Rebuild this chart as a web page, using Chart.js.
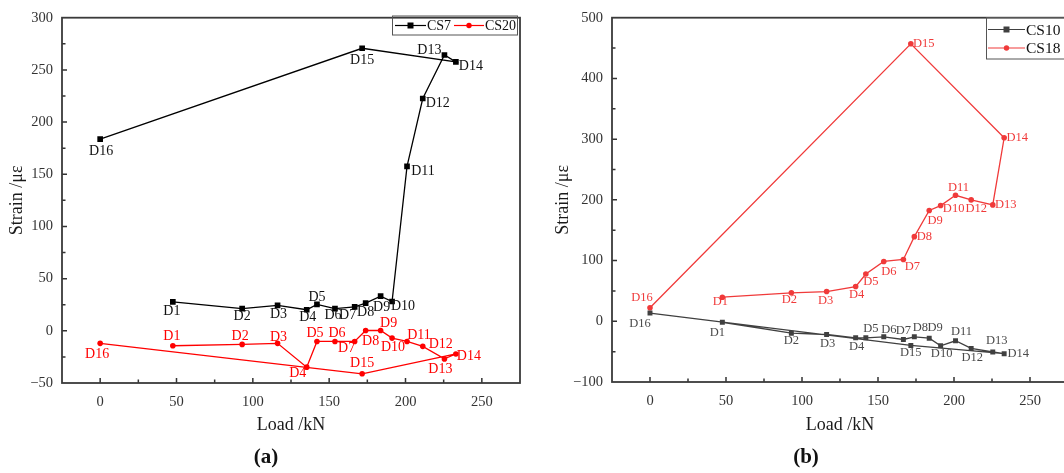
<!DOCTYPE html>
<html>
<head>
<meta charset="utf-8">
<script src="https://cdn.jsdelivr.net/npm/chart.js@4.4.1/dist/chart.umd.min.js"></script>
<style>
    html, body { margin: 0; padding: 0; background: #fff; overflow: hidden; }
    #page { position: relative; width: 1064px; height: 473px; overflow: hidden; }
    .panel { position: absolute; top: 0; height: 473px; }
    #panel-a { left: 0; width: 540px; }
    #panel-b { left: 552px; width: 528px; }
    .caption {
        position: absolute; top: 444px; transform: translateX(-50%);
        font: bold 21px 'Liberation Serif', serif; color: #111;
    }
</style>
</head>
<body>
<div id="page">
    <div class="panel" id="panel-a"><canvas id="chart-a"></canvas></div>
    <div class="panel" id="panel-b"><canvas id="chart-b"></canvas></div>
    <div class="caption" style="left:266px">(a)</div>
    <div class="caption" style="left:806px">(b)</div>
</div>
<script>
// measuring points D1..D16, load applied at each one (kN)
const pointNames = ['D1', 'D2', 'D3', 'D4', 'D5', 'D6', 'D7', 'D8', 'D9', 'D10', 'D11', 'D12', 'D13', 'D14', 'D15', 'D16'];
const loads = [47.6, 93, 116.2, 135.3, 142, 153.8, 166.7, 173.9, 183.7, 191.2, 201, 211.3, 225.5, 233, 171.6, 0];

// strain readings (με)
const cs7Strain = [27.8, 21.2, 24.3, 20.2, 25.3, 21.2, 23, 26.5, 33.2, 28.1, 157.5, 222.6, 264.3, 257.7, 270.7, 183.7];
const cs20Strain = [-14.3, -13, -12, -34.8, -10.2, -10.2, -10.2, 0.3, 0.3, -7, -10.2, -14.9, -26.9, -22.2, -41.2, -12];
const cs10Strain = [-1.6, -19.6, -21.8, -27.2, -27.2, -25.6, -30, -25.6, -27.8, -40.3, -32.1, -44.7, -50.6, -53.4, -39.8, 13.6];
const cs18Strain = [39.7, 46.9, 49, 57.2, 77.9, 98.5, 101.8, 139.4, 182.5, 190.6, 207.5, 199.9, 191.7, 302.3, 457, 22.4];

// where each D-label sits relative to its marker (px)
const cs7Tags = [[-1, 10], [0, 8], [1, 9], [1, 8], [0, -7], [-2, 7], [-7, 9], [0, 9], [1, 11], [11, 5], [16, 5], [15, 5], [-15, -5], [15, 4], [0, 12], [1, 12]];
const cs20Tags = [[-1, -9], [-2, -8], [1, -6], [-9, 6], [-2, -8], [2, -8], [-8, 7], [5, 11], [8, -7], [1, 9], [12, -6], [18, -2], [-4, 10], [13, 2], [0, -10], [-3, 11]];
const cs10Tags = [[-5, 10], [0, 8], [1, 9], [1, 9], [5, -9], [5, -7], [0, -9], [6, -9], [6, -10], [1, 8], [6, -9], [1, 9], [4, -11], [14, 0], [0, 7], [-10, 11]];
const cs18Tags = [[-2, 5], [-2, 7], [-1, 9], [1, 8], [5, 8], [5, 10], [9, 7], [10, 0], [6, 10], [13, 3], [3, -8], [5, 9], [13, 0], [13, 0], [13, 0], [-8, -10]];

const serif = "'Liberation Serif', 'Times New Roman', serif";

function toPoints(strain) {
    return strain.map((v, i) => ({ x: loads[i], y: v }));
}

function signed(v) {
    return v < 0 ? '\u2212' + Math.abs(v) : String(v);
}

// D-labels next to markers
const pointTags = {
    id: 'pointTags',
    afterDatasetsDraw(chart) {
        const ctx = chart.ctx;
        chart.data.datasets.forEach((ds, i) => {
            const meta = chart.getDatasetMeta(i);
            ctx.save();
            ctx.font = ds.tagFont;
            ctx.fillStyle = ds.tagColor;
            ctx.textAlign = 'center';
            ctx.textBaseline = 'middle';
            meta.data.forEach((pt, j) => {
                const [dx, dy] = ds.tagOffsets[j];
                ctx.fillText(pointNames[j], pt.x + dx, pt.y + dy);
            });
            ctx.restore();
        });
    }
};

// box around the plot with inward tick marks, and the boxed legend
const frame = {
    id: 'frame',
    afterDraw(chart, args, opts) {
        const ctx = chart.ctx;
        const a = chart.chartArea;
        const xs = chart.scales.x, ys = chart.scales.y;
        ctx.save();
        ctx.strokeStyle = '#333';
        ctx.lineWidth = 1.5;
        ctx.beginPath();
        xs.ticks.forEach(t => {
            if (t.value <= xs.min || t.value >= xs.max) return;
            const px = xs.getPixelForValue(t.value);
            const len = t.value % 50 === 0 ? 5 : 3.5;
            ctx.moveTo(px, a.bottom);
            ctx.lineTo(px, a.bottom - len);
        });
        ys.ticks.forEach(t => {
            if (t.value <= ys.min || t.value >= ys.max) return;
            const py = ys.getPixelForValue(t.value);
            const len = t.value % opts.yLabelStep === 0 ? 5 : 3.5;
            ctx.moveTo(a.left, py);
            ctx.lineTo(a.left + len, py);
        });
        ctx.stroke();
        ctx.strokeStyle = '#3a3a3a';
        ctx.lineWidth = 1.8;
        ctx.strokeRect(a.left, a.top, a.right - a.left, a.bottom - a.top);

        // legend
        const lg = opts.legend;
        ctx.strokeStyle = '#555';
        ctx.lineWidth = 1;
        ctx.strokeRect(lg.box[0], lg.box[1], lg.box[2], lg.box[3]);
        ctx.font = lg.font + 'px ' + serif;
        ctx.textBaseline = 'middle';
        ctx.textAlign = 'left';
        lg.items.forEach((it, k) => {
            const ds = chart.data.datasets[k];
            ctx.strokeStyle = ds.borderColor;
            ctx.lineWidth = 1.2;
            ctx.beginPath();
            ctx.moveTo(it.x, it.y);
            ctx.lineTo(it.x + it.w, it.y);
            ctx.stroke();
            ctx.fillStyle = ds.borderColor;
            const mx = it.x + it.w / 2;
            if (ds.pointStyle === 'rect') {
                ctx.fillRect(mx - 3, it.y - 3, 6, 6);
            } else {
                ctx.beginPath();
                ctx.arc(mx, it.y, 2.7, 0, Math.PI * 2);
                ctx.fill();
            }
            ctx.fillStyle = '#111';
            ctx.fillText(ds.label, it.x + it.w + 1, it.y + 1);
        });
        ctx.restore();
    }
};

function makeChart(canvasId, setup) {
    return new Chart(document.getElementById(canvasId), {
        type: 'scatter',
        data: { datasets: setup.datasets },
        plugins: [pointTags, frame],
        options: {
            responsive: true,
            maintainAspectRatio: false,
            animation: false,
            events: [],
            layout: { padding: { left: 0, top: 14, right: setup.padRight, bottom: 36 } },
            plugins: {
                legend: { display: false },
                tooltip: { enabled: false },
                frame: { yLabelStep: setup.yLabelStep, legend: setup.legend }
            },
            scales: {
                x: {
                    type: 'linear',
                    min: -25,
                    max: 275,
                    afterFit: s => { s.height = setup.xAxisHeight; },
                    grid: { display: false, drawTicks: false },
                    border: { display: false },
                    ticks: {
                        stepSize: 25,
                        autoSkip: false,
                        maxRotation: 0,
                        padding: 10,
                        color: '#333',
                        font: { family: serif, size: 14.5 },
                        callback: v => (v % 50 === 0 && v >= 0 ? String(v) : '')
                    },
                    title: {
                        display: true,
                        text: 'Load /kN',
                        color: '#1a1a1a',
                        font: { family: serif, size: 18 },
                        padding: { top: 0, bottom: 1 }
                    }
                },
                y: {
                    type: 'linear',
                    min: setup.yMin,
                    max: setup.yMax,
                    afterFit: s => { s.width = setup.yAxisWidth; },
                    grid: { display: false, drawTicks: false },
                    border: { display: false },
                    ticks: {
                        stepSize: setup.yLabelStep / 2,
                        autoSkip: false,
                        padding: 9,
                        color: '#333',
                        font: { family: serif, size: 14.5 },
                        callback: v => (v % setup.yLabelStep === 0 ? signed(v) : '')
                    },
                    title: {
                        display: true,
                        text: 'Strain /με',
                        color: '#1a1a1a',
                        font: { family: serif, size: 18 },
                        padding: { top: setup.yTitlePad, bottom: 0 }
                    }
                }
            }
        }
    });
}

function series(label, strain, color, style, radius, tags, tagFont, tagColor) {
    return {
        label: label,
        data: toPoints(strain),
        showLine: true,
        borderColor: color,
        backgroundColor: color,
        borderWidth: 1.3,
        pointStyle: style,
        pointRadius: radius,
        pointBorderWidth: 0,
        tagOffsets: tags,
        tagFont: tagFont,
        tagColor: tagColor
    };
}

makeChart('chart-a', {
    yMin: -50, yMax: 300, yLabelStep: 50,
    yAxisWidth: 62, yTitlePad: 6, xAxisHeight: 54, padRight: 20,
    datasets: [
        series('CS7', cs7Strain, '#000000', 'rect', 4, cs7Tags, '14px ' + serif, '#111'),
        series('CS20', cs20Strain, '#ff0000', 'circle', 2.8, cs20Tags, '14px ' + serif, '#ff0000')
    ],
    legend: {
        box: [392.5, 16, 125, 19],
        font: 14,
        items: [{ x: 395, y: 25.5, w: 31 }, { x: 454, y: 25.5, w: 30 }]
    }
});

makeChart('chart-b', {
    yMin: -100, yMax: 500, yLabelStep: 100,
    yAxisWidth: 60, yTitlePad: 0, xAxisHeight: 55, padRight: 12,
    datasets: [
        series('CS10', cs10Strain, '#404040', 'rect', 3.5, cs10Tags, '12.5px ' + serif, '#4a4a4a'),
        series('CS18', cs18Strain, '#f03a3a', 'circle', 2.8, cs18Tags, '12.5px ' + serif, '#f03a3a')
    ],
    legend: {
        box: [986.5 - 552, 17.5, 90, 41.5],
        font: 15.5,
        items: [{ x: 988 - 552, y: 29.5, w: 37 }, { x: 988 - 552, y: 48, w: 37 }]
    }
});
</script>
</body>
</html>
